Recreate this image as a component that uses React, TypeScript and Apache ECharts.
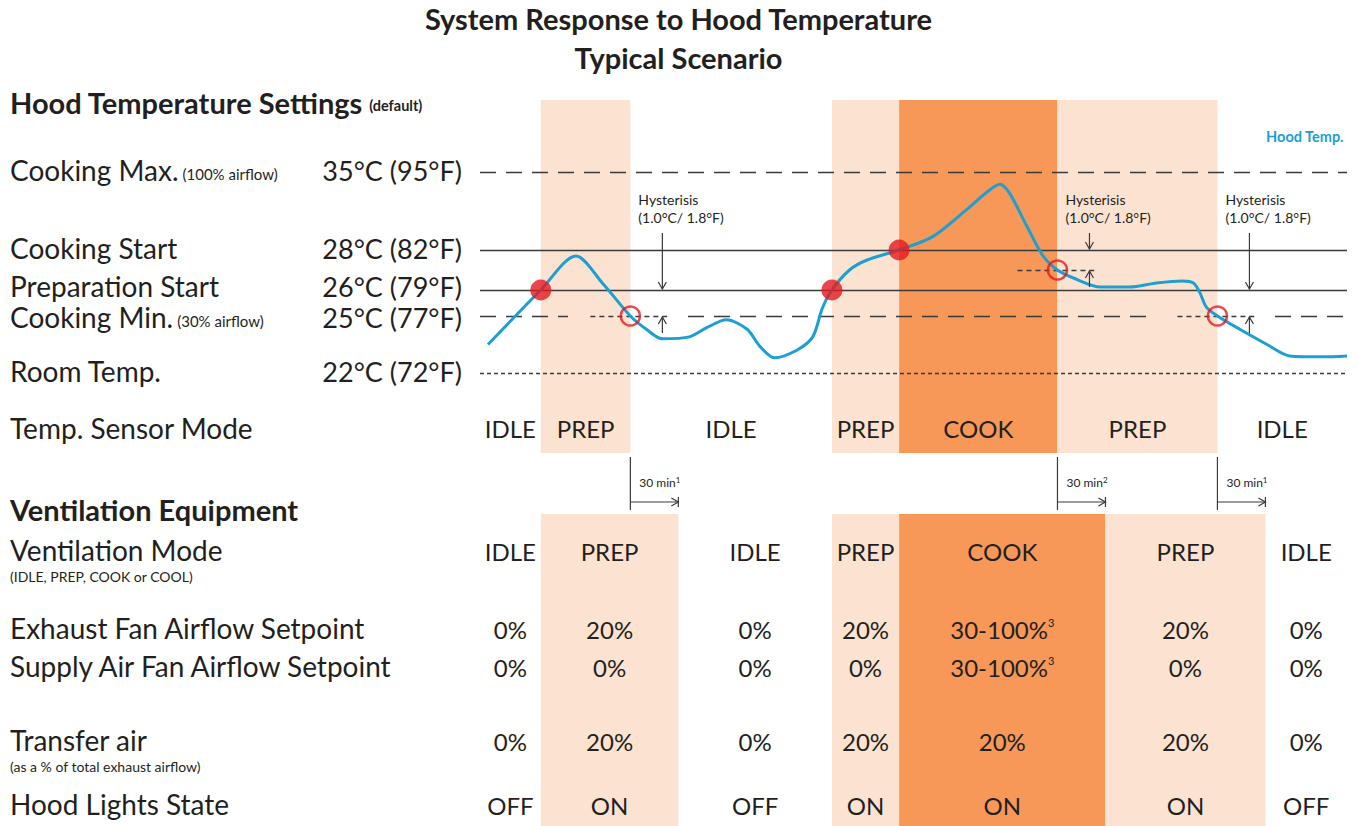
import React, { useEffect, useRef } from "react";
import * as echarts from "echarts";

// ---------- style ----------
const FONT = "Lato, 'Noto Sans', sans-serif";
const INK = "#231f20";
const LINE = "#3a3a3a";
const PEACH = "#fce3d1";
const ORANGE = "#f79858";
const BLUE = "#1c9fd2";
const RED = "#e3191f";

// ---------- data ----------
const T_MAX = 542; // minutes shown

// Hood temperature curve (minutes, °C)
const TIME = [5, 38, 60, 77, 94, 104, 114, 131, 142, 154, 167, 175, 184, 198, 208, 214, 220, 231, 242, 262, 283, 304, 317, 325, 331, 342, 352, 361, 371, 388, 406, 423, 439, 446, 450, 454, 461, 475, 492, 506, 527, 542];
const HOOD_TEMP = [23.5, 26.0, 27.7, 26.3, 25.0, 24.3, 23.8, 23.9, 24.4, 24.8, 24.3, 23.4, 22.8, 23.2, 23.9, 25.3, 26.0, 27.0, 27.5, 28.0, 29.2, 31.6, 33.2, 33.9, 33.1, 30.1, 27.7, 27.0, 26.6, 26.15, 26.15, 26.35, 26.45, 26.35, 25.9, 25.35, 25.0, 24.3, 23.5, 22.9, 22.85, 22.9];

// temperature settings
const THRESH_NAME = ["Cooking Max.", "Cooking Start", "Preparation Start", "Cooking Min.", "Room Temp."];
const THRESH_NOTE = ["(100% airflow)", "", "", "(30% airflow)", ""];
const THRESH_C = [35, 28, 26, 25, 22];
const THRESH_F = [95, 82, 79, 77, 72];

// schematic (non-linear) temperature scale of the drawing
const SCALE_C = [22, 25, 26, 28, 35];
const SCALE_LV = [80, 137, 163, 203, 281];

// mode changes
const ENTRY_T = [38, 220, 262];
const ENTRY_C = [26, 26, 28];
const EXIT_T = [94, 361, 461];
const EXIT_C = [25, 27, 25];
const HYST_C = 1.0;
const HYST_F = 1.8;
const DELAY_MIN = [30, 30, 30];
const DELAY_FN = ["1", "2", "1"];

const SENSOR_MODES = ["IDLE", "PREP", "IDLE", "PREP", "COOK", "PREP", "IDLE"];
const SENSOR_BOUNDS = [0, 38, 94, 220, 262, 361, 461, 542];
const VENT_MODES = ["IDLE", "PREP", "IDLE", "PREP", "COOK", "PREP", "IDLE"];
const VENT_BOUNDS = [0, 38, 124, 220, 262, 391, 491, 542];

const EXHAUST = ["0%", "20%", "0%", "20%", "30-100%", "20%", "0%"];
const EXHAUST_FN = ["", "", "", "", "3", "", ""];
const SUPPLY = ["0%", "0%", "0%", "0%", "30-100%", "0%", "0%"];
const SUPPLY_FN = ["", "", "", "", "3", "", ""];
const TRANSFER = ["0%", "20%", "0%", "20%", "20%", "20%", "0%"];
const LIGHTS = ["OFF", "ON", "OFF", "ON", "ON", "ON", "OFF"];

const ROW_NAMES = ["Ventilation Mode", "Exhaust Fan Airflow Setpoint", "Supply Air Fan Airflow Setpoint", "Transfer air", "Hood Lights State"];
const ROW_NOTES = ["(IDLE, PREP, COOK or COOL)", "", "", "(as a % of total exhaust airflow)", ""];
const ROW_VALUES = [VENT_MODES, EXHAUST, SUPPLY, TRANSFER, LIGHTS];
const ROW_FN: (string[] | null)[] = [null, EXHAUST_FN, SUPPLY_FN, null, null];

// ---------- layout ----------
const G0_MAX = 353;
const G1_MAX = 312;
const SENSOR_ROW = 25;
const ROW_Y = [37, 115, 153, 227, 291];
const THRESH_DY = [-2, -2, -4, 1, -2]; // label nudges (px) so close labels don't collide

const LONG = [16, 10];
const SHORT = [5, 4];
const DOT = [4, 3];

const LABEL = 28;
const HEAD = 29;

const lv = (t: number) => {
  let i = 0;
  while (i < SCALE_C.length - 2 && t > SCALE_C[i + 1]) i++;
  const a = SCALE_C[i], b = SCALE_C[i + 1];
  return SCALE_LV[i] + ((t - a) * (SCALE_LV[i + 1] - SCALE_LV[i])) / (b - a);
};

let measureCtx: CanvasRenderingContext2D | null = null;
const textWidth = (text: string, size: number, weight = "normal") => {
  if (!measureCtx) measureCtx = document.createElement("canvas").getContext("2d");
  if (!measureCtx) return text.length * size * 0.5;
  measureCtx.font = `${weight} ${size}px ${FONT}`;
  return measureCtx.measureText(text).width;
};

const rs = (size: number, weight = "normal", extra: any = {}) => ({
  fontFamily: FONT, fontSize: size, fontWeight: weight, fill: INK, color: INK, ...extra,
});

const T = (x: number, y: number, text: string, o: any = {}) => ({
  type: "text",
  x, y, silent: true, z2: 20,
  style: {
    text,
    fill: o.color || INK,
    fontFamily: FONT,
    fontSize: o.size || LABEL,
    fontWeight: o.weight || "normal",
    lineHeight: o.lh,
    align: o.align || "left",
    textAlign: o.align || "left",
    verticalAlign: o.va || "middle",
    textVerticalAlign: o.va || "middle",
    rich: o.rich,
  },
});

const L = (x1: number, y1: number, x2: number, y2: number, w = 1.2) => ({
  type: "line", silent: true,
  shape: { x1, y1, x2, y2 },
  style: { stroke: LINE, lineWidth: w, fill: null },
});

const head = (x: number, y: number, dir: "down" | "up" | "right") => {
  let pts: number[][];
  if (dir === "down") pts = [[x - 4, y - 7], [x, y], [x + 4, y - 7]];
  else if (dir === "up") pts = [[x - 4, y + 7], [x, y], [x + 4, y + 7]];
  else pts = [[x - 7, y - 4], [x, y], [x - 7, y + 4]];
  return { type: "polyline", silent: true, shape: { points: pts }, style: { stroke: LINE, lineWidth: 1.2, fill: null } };
};

function bandSeries(gi: number, bounds: number[], modes: string[], yMax: number) {
  return {
    type: "custom", xAxisIndex: gi, yAxisIndex: gi, z: 0, silent: true, clip: false,
    data: modes.map((m, i) => [bounds[i], bounds[i + 1], i]),
    renderItem: (_p: any, api: any) => {
      const i = api.value(2);
      const m = modes[i];
      if (m === "IDLE") return { type: "group", children: [] };
      const a = api.coord([api.value(0), 0]);
      const b = api.coord([api.value(1), yMax]);
      return {
        type: "rect",
        shape: { x: a[0], y: Math.min(a[1], b[1]), width: b[0] - a[0], height: Math.abs(b[1] - a[1]) },
        style: { fill: m === "COOK" ? ORANGE : PEACH },
      };
    },
  };
}

function buildOption() {
  const segLine = (x1: number, x2: number, c: number, type: any, w = 1.4) => {
    const ls = { type, color: LINE, width: w };
    return [{ coord: [x1, lv(c)], lineStyle: ls }, { coord: [x2, lv(c)], lineStyle: ls }];
  };
  const cMin = THRESH_C[3];
  const minSegs: number[][] = [];
  let s0 = 0;
  EXIT_T.forEach((t, i) => {
    if (EXIT_C[i] === cMin) {
      minSegs.push([s0, t - 39]);
      s0 = t + 36;
    }
  });
  minSegs.push([s0, T_MAX]);

  const markData: any[] = [
    { yAxis: lv(THRESH_C[0]), lineStyle: { type: LONG, color: LINE, width: 1.4 } },
    { yAxis: lv(THRESH_C[1]), lineStyle: { type: "solid", color: LINE, width: 1.4 } },
    { yAxis: lv(THRESH_C[2]), lineStyle: { type: "solid", color: LINE, width: 1.4 } },
    { yAxis: lv(THRESH_C[4]), lineStyle: { type: DOT, color: LINE, width: 1.3 } },
    ...minSegs.map(([a, b]) => segLine(a, b, cMin, LONG)),
    ...EXIT_T.map((t, i) => segLine(t - 25, t + 23, EXIT_C[i], SHORT)),
  ];

  // table cells
  const cells: number[][] = [];
  ROW_VALUES.forEach((row, r) => row.forEach((_v, s) => cells.push([VENT_BOUNDS[s], VENT_BOUNDS[s + 1], ROW_Y[r], r, s])));

  return {
    animation: false,
    backgroundColor: "#ffffff",
    title: [
      { text: "System Response to Hood Temperature", left: "center", top: 4, padding: 0, textStyle: { fontFamily: FONT, fontSize: HEAD, fontWeight: "bold", color: INK } },
      { text: "Typical Scenario", left: "center", top: 43, padding: 0, textStyle: { fontFamily: FONT, fontSize: HEAD, fontWeight: "bold", color: INK } },
    ],
    legend: {
      right: 8, top: 124, itemWidth: 0, itemHeight: 0, itemGap: 0, selectedMode: false,
      data: [{ name: "Hood Temp." }],
      textStyle: { color: BLUE, fontWeight: "bold", fontSize: 14.5, fontFamily: FONT },
    },
    grid: [
      { left: 480, right: 10, top: 100, height: G0_MAX },
      { left: 480, right: 10, top: 514, height: G1_MAX },
    ],
    xAxis: [
      { type: "value", gridIndex: 0, min: 0, max: T_MAX, show: false },
      { type: "value", gridIndex: 1, min: 0, max: T_MAX, show: false },
    ],
    yAxis: [
      { type: "value", gridIndex: 0, min: 0, max: G0_MAX, show: false },
      { type: "value", gridIndex: 1, min: 0, max: G1_MAX, inverse: true, show: false },
    ],
    graphic: [
      T(10, 102, "{b|Hood Temperature Settings}{s|(default)}", {
        rich: { b: rs(HEAD, "bold", { verticalAlign: "bottom" }), s: rs(14.5, "bold", { padding: [0, 0, 4, 6], verticalAlign: "bottom" }) },
      }),
      T(10, 509, "Ventilation Equipment", { weight: "bold", size: HEAD }),
    ],
    series: [
      bandSeries(0, SENSOR_BOUNDS, SENSOR_MODES, G0_MAX),
      bandSeries(1, VENT_BOUNDS, VENT_MODES, G1_MAX),
      {
        name: "Hood Temp.",
        type: "line", xAxisIndex: 0, yAxisIndex: 0, z: 3,
        data: TIME.map((t, i) => [t, lv(HOOD_TEMP[i])]),
        smooth: 0.3, showSymbol: false, symbol: "none",
        lineStyle: { color: BLUE, width: 3 }, itemStyle: { color: BLUE },
        markLine: { silent: true, symbol: ["none", "none"], label: { show: false }, data: markData, z: 2 },
      },
      {
        type: "scatter", xAxisIndex: 0, yAxisIndex: 0, z: 6, silent: true,
        symbol: "circle", symbolSize: 21,
        itemStyle: { color: RED },
        data: ENTRY_T.map((t, i) => [t, lv(ENTRY_C[i])]),
      },
      {
        type: "scatter", xAxisIndex: 0, yAxisIndex: 0, z: 6, silent: true,
        symbol: "circle", symbolSize: 19,
        itemStyle: { color: "rgba(0,0,0,0)", borderColor: RED, borderWidth: 2.5 },
        data: EXIT_T.map((t, i) => [t, lv(EXIT_C[i])]),
      },
      // temperature setting labels
      {
        type: "custom", xAxisIndex: 0, yAxisIndex: 0, z: 7, silent: true, clip: false,
        data: THRESH_C.map((c, i) => [0, lv(c), i]),
        renderItem: (_p: any, api: any) => {
          const i = api.value(2);
          const y = api.coord([0, api.value(1)])[1] + THRESH_DY[i];
          const children: any[] = [
            T(10, y, THRESH_NAME[i], { lh: 24 }),
            T(462, y, `${THRESH_C[i]}°C (${THRESH_F[i]}°F)`, { align: "right", size: 27, lh: 24 }),
          ];
          if (THRESH_NOTE[i]) {
            const w = textWidth(THRESH_NAME[i], LABEL);
            children.push(T(10 + w + 4, y + 4, THRESH_NOTE[i], { size: 15, lh: 16 }));
          }
          return { type: "group", children };
        },
      },
      // sensor mode row
      {
        type: "custom", xAxisIndex: 0, yAxisIndex: 0, z: 7, silent: true, clip: false,
        data: SENSOR_MODES.map((_m, i) => [SENSOR_BOUNDS[i], SENSOR_BOUNDS[i + 1], i]),
        renderItem: (_p: any, api: any) => {
          const i = api.value(2);
          const a = api.coord([api.value(0), SENSOR_ROW]);
          const b = api.coord([api.value(1), SENSOR_ROW]);
          const children: any[] = [T((a[0] + b[0]) / 2, a[1], SENSOR_MODES[i], { size: 24, align: "center" })];
          if (i === 0) children.push(T(10, a[1], "Temp. Sensor Mode"));
          return { type: "group", children };
        },
      },
      // hysteresis + delay annotations
      {
        type: "custom", xAxisIndex: 0, yAxisIndex: 0, z: 7, silent: true, clip: false,
        data: EXIT_T.map((t, i) => [t, lv(EXIT_C[i]), i]),
        renderItem: (_p: any, api: any) => {
          const i = api.value(2);
          const t = api.value(0);
          const [cx, cy] = api.coord([t, lv(EXIT_C[i])]);
          const entryY = api.coord([t, lv(EXIT_C[i] + HYST_C)])[1];
          const topY = api.coord([t, lv(THRESH_C[0])])[1];
          const bottom = api.coord([t, 0])[1];
          const ex = api.coord([t + DELAY_MIN[i], 0])[0];
          const ax = cx + 32;
          const hy = bottom + 49;
          return {
            type: "group",
            children: [
              T(ax - 24, topY + 27, "Hysterisis", { size: 14, lh: 16 }),
              T(ax - 24, topY + 45, `(${HYST_C.toFixed(1)}°C/ ${HYST_F}°F)`, { size: 14, lh: 16 }),
              L(ax, topY + 61, ax, entryY - 1),
              head(ax, entryY - 1, "down"),
              L(ax, cy + 17, ax, cy + 1),
              head(ax, cy + 1, "up"),
              L(cx, bottom + 4, cx, bottom + 57),
              L(cx, hy, ex, hy),
              head(ex, hy, "right"),
              L(ex, hy - 5, ex, hy + 5),
              T(cx + 9, bottom + 29, `{m|${DELAY_MIN[i]} min}{u|${DELAY_FN[i]}}`, {
                size: 12,
                rich: { m: rs(12, "normal", { verticalAlign: "bottom" }), u: rs(8, "normal", { verticalAlign: "top" }) },
              }),
            ],
          };
        },
      },
      // ventilation table values
      {
        type: "custom", xAxisIndex: 1, yAxisIndex: 1, z: 7, silent: true, clip: false,
        data: cells,
        renderItem: (_p: any, api: any) => {
          const r = api.value(3);
          const s = api.value(4);
          const a = api.coord([api.value(0), api.value(2)]);
          const b = api.coord([api.value(1), api.value(2)]);
          const fn = ROW_FN[r] ? (ROW_FN[r] as string[])[s] : "";
          const text = fn ? `{v|${ROW_VALUES[r][s]}}{u|${fn}}` : ROW_VALUES[r][s];
          return T((a[0] + b[0]) / 2, a[1], text, {
            size: 24, align: "center",
            rich: { v: rs(24), u: rs(11, "normal", { verticalAlign: "top" }) },
          });
        },
      },
      // ventilation row labels
      {
        type: "custom", xAxisIndex: 1, yAxisIndex: 1, z: 7, silent: true, clip: false,
        data: ROW_Y.map((y, r) => [0, y, r]),
        renderItem: (_p: any, api: any) => {
          const r = api.value(2);
          const y = api.coord([0, api.value(1)])[1] - 1;
          const children: any[] = [T(10, y, ROW_NAMES[r], { lh: 26 })];
          if (ROW_NOTES[r]) children.push(T(10, y + 26, ROW_NOTES[r], { size: 14, lh: 16 }));
          return { type: "group", children };
        },
      },
    ],
  };
}

export default function App() {
  const ref = useRef<HTMLDivElement>(null);
  useEffect(() => {
    const chart = echarts.init(ref.current!, null, { renderer: "svg" });
    chart.setOption(buildOption() as any);
    return () => chart.dispose();
  }, []);
  return (
    <div
      ref={ref}
      style={{ position: "absolute", left: 0, top: 0, width: 1357, height: 826, background: "#fff" }}
    />
  );
}
